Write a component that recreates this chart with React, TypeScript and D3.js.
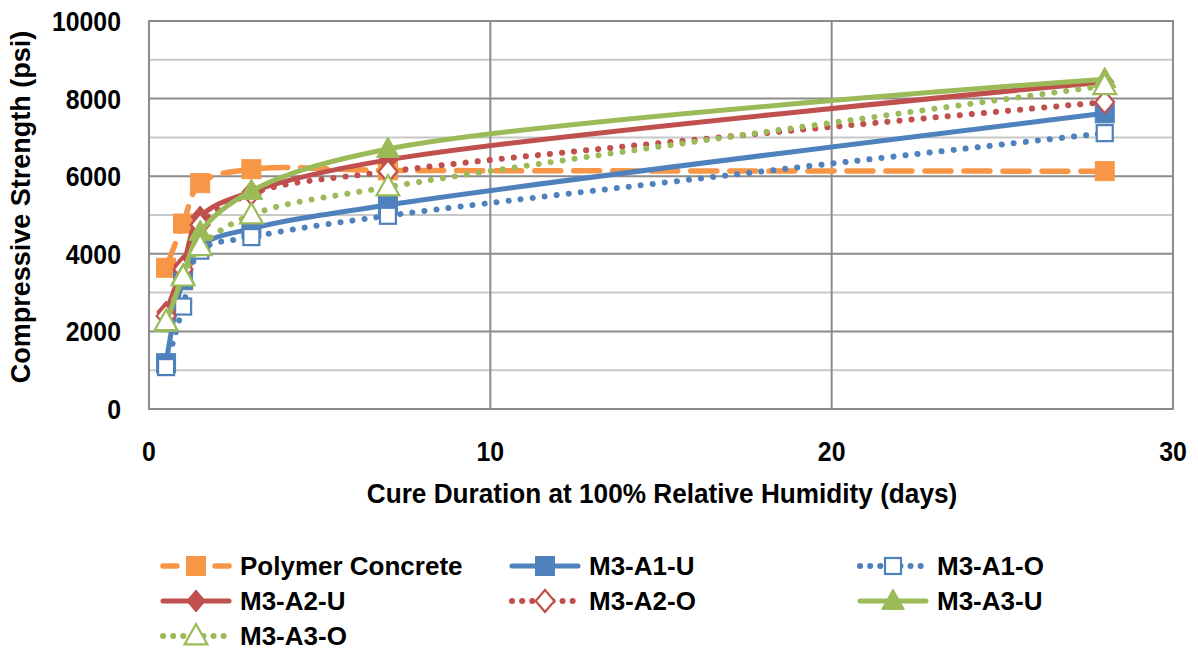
import React from "react";
import * as d3 from "d3";

const days = [0.5, 1, 1.5, 3, 7, 28];
const polymer = [3640, 4780, 5820, 6180, 6150, 6130];
const a1u = [1180, 3320, 4200, 4650, 5260, 7620];
const a1o = [1080, 2640, 4080, 4430, 4980, 7110];
const a2u = [2500, 3700, 4950, 5600, 6420, 8430];
const a2o = [2400, 3600, 4750, 5550, 6120, 7910];
const a3u = [2220, 3450, 4560, 5620, 6700, 8500];
const a3o = [2250, 3400, 4180, 5000, 5720, 8330];

const xTicks = [0, 10, 20, 30];
const yTicks = [0, 2000, 4000, 6000, 8000, 10000];
const yMinor = [1000, 3000, 5000, 7000, 9000];

type Marker = "square" | "diamond" | "triangle";
interface Series {
  name: string;
  values: number[];
  color: string;
  dash: string;
  width: number;
  marker: Marker;
  open: boolean;
}

const series: Series[] = [
  { name: "Polymer Concrete", values: polymer, color: "#F79646", dash: "26 13", width: 5.5, marker: "square", open: false },
  { name: "M3-A1-U", values: a1u, color: "#4F81BD", dash: "", width: 5, marker: "square", open: false },
  { name: "M3-A1-O", values: a1o, color: "#4F81BD", dash: "0.1 12", width: 6, marker: "square", open: true },
  { name: "M3-A2-U", values: a2u, color: "#C0504D", dash: "", width: 5, marker: "diamond", open: false },
  { name: "M3-A2-O", values: a2o, color: "#C0504D", dash: "0.1 12", width: 6, marker: "diamond", open: true },
  { name: "M3-A3-U", values: a3u, color: "#9BBB59", dash: "", width: 5, marker: "triangle", open: false },
  { name: "M3-A3-O", values: a3o, color: "#9BBB59", dash: "0.1 12", width: 6, marker: "triangle", open: true },
];

const FONT = "'Liberation Sans', Arial, sans-serif";

function MarkerShape({ type, x, y, color, open }: { type: Marker; x: number; y: number; color: string; open: boolean }) {
  const fill = open ? "white" : color;
  const sw = open ? 2.2 : 1;
  if (type === "square") {
    const s = open ? 16 : 19;
    return <rect x={x - s / 2} y={y - s / 2} width={s} height={s} fill={fill} stroke={color} strokeWidth={sw} />;
  }
  if (type === "diamond") {
    const r = 11;
    return (
      <path d={`M${x},${y - r}L${x + r * 0.85},${y}L${x},${y + r}L${x - r * 0.85},${y}Z`} fill={fill} stroke={color} strokeWidth={sw} />
    );
  }
  const r = 12;
  return (
    <path d={`M${x},${y - r}L${x + r * 0.95},${y + r * 0.7}L${x - r * 0.95},${y + r * 0.7}Z`} fill={fill} stroke={color} strokeWidth={sw} />
  );
}

function Label({ x, y, anchor, size, sx, rotate, children }: { x: number; y: number; anchor: string; size: number; sx: number; rotate?: number; children: React.ReactNode }) {
  return (
    <text
      transform={`translate(${x},${y})${rotate ? ` rotate(${rotate})` : ""} scale(${sx},1)`}
      textAnchor={anchor}
      fontFamily={FONT}
      fontWeight="bold"
      fontSize={size}
      fill="#000"
    >
      {children}
    </text>
  );
}

export default function App() {
  const left = 149, right = 1173, top = 21, bottom = 409;
  const x = d3.scaleLinear().domain([0, 30]).range([left, right]);
  const y = d3.scaleLinear().domain([0, 10000]).range([bottom, top]);
  const line = d3
    .line<number>()
    .x((_, i) => x(days[i]))
    .y((v) => y(v))
    .curve(d3.curveCatmullRom.alpha(0.5));

  const legendCols = [163, 512, 860];
  const legendRows = [566, 601, 636];

  return (
    <svg width={1198} height={655} style={{ position: "absolute", left: 0, top: 0, background: "white" }}>
      <rect x={0} y={0} width={1198} height={655} fill="white" />
      {yMinor.map((v) => (
        <line key={"m" + v} x1={left} x2={right} y1={y(v)} y2={y(v)} stroke="#C8C8C8" strokeWidth={2} />
      ))}
      {yTicks.slice(1).map((v) => (
        <line key={"g" + v} x1={left} x2={right} y1={y(v)} y2={y(v)} stroke="#8C8C8C" strokeWidth={2} />
      ))}
      {xTicks.slice(1, 3).map((v) => (
        <line key={"xg" + v} x1={x(v)} x2={x(v)} y1={top} y2={bottom} stroke="#8C8C8C" strokeWidth={2} />
      ))}
      <rect x={left} y={top} width={right - left} height={bottom - top} fill="none" stroke="#8C8C8C" strokeWidth={2} />

      {series.map((s) => (
        <g key={s.name}>
          <path
            d={line(s.values) || ""}
            fill="none"
            stroke={s.color}
            strokeWidth={s.width}
            strokeDasharray={s.dash || undefined}
            strokeLinecap="round"
          />
          {s.values.map((v, i) => (
            <MarkerShape key={i} type={s.marker} x={x(days[i])} y={y(v)} color={s.color} open={s.open} />
          ))}
        </g>
      ))}

      {yTicks.map((v) => (
        <Label key={"yl" + v} x={121} y={y(v) + 10} anchor="end" size={27} sx={0.92}>
          {v}
        </Label>
      ))}
      {xTicks.map((v) => (
        <Label key={"xl" + v} x={x(v)} y={461} anchor="middle" size={27} sx={0.92}>
          {v}
        </Label>
      ))}
      <Label x={662} y={503} anchor="middle" size={27} sx={0.97}>
        Cure Duration at 100% Relative Humidity (days)
      </Label>
      <Label x={30} y={207} anchor="middle" size={27} sx={1} rotate={-90}>
        Compressive Strength (psi)
      </Label>

      {series.map((s, i) => {
        const cx = legendCols[i % 3];
        const cy = legendRows[Math.floor(i / 3)];
        return (
          <g key={"lg" + s.name}>
            <line
              x1={cx}
              x2={cx + 66}
              y1={cy}
              y2={cy}
              stroke={s.color}
              strokeWidth={s.width}
              strokeDasharray={s.dash ? (s.open ? "0.1 10" : "14 12") : undefined}
              strokeLinecap="round"
            />
            <MarkerShape type={s.marker} x={cx + 33} y={cy} color={s.color} open={s.open} />
            <Label x={cx + 77} y={cy + 9} anchor="start" size={26} sx={1}>
              {s.name}
            </Label>
          </g>
        );
      })}
    </svg>
  );
}
